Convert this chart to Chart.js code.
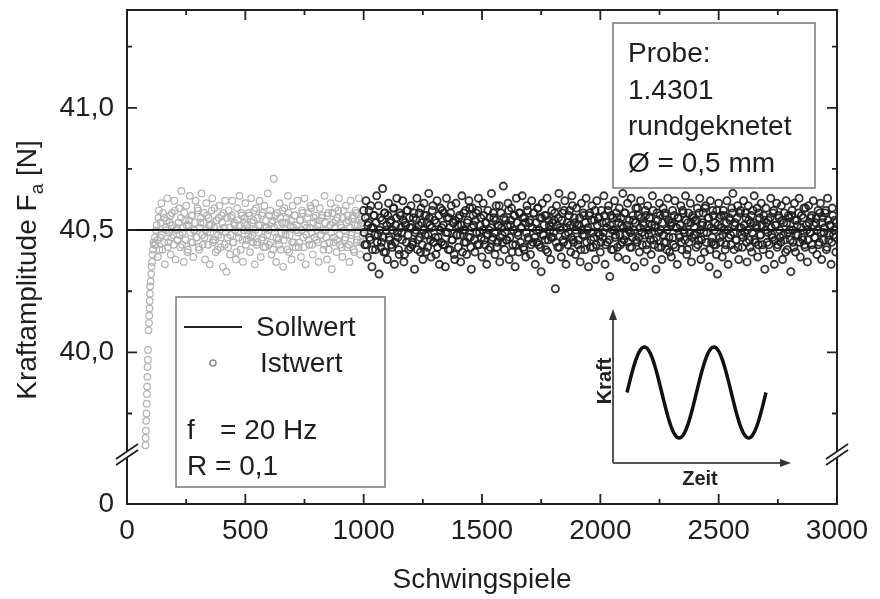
<!DOCTYPE html>
<html>
<head>
<meta charset="utf-8">
<script src="https://cdn.jsdelivr.net/npm/chart.js@4.4.1/dist/chart.umd.min.js"></script>
<style>
  html, body { margin: 0; padding: 0; background: #fff; }
</style>
</head>
<body>
<canvas id="chart" width="880" height="599"></canvas>
<script>
// --- Daten ---
const sollwert = 40.5;
const xTicks = [0, 500, 1000, 1500, 2000, 2500, 3000];
const yTicks = [40.0, 40.5, 41.0];
const yNull = 39.38;     // Position der "0" unter dem Achsenbruch
const yBruch = 39.58;    // Lage des Bruchzeichens
const yMax = 41.40;

// Anlauf (hellgrau), einzelne Zyklen
const anlaufZyklen = [78, 79, 80, 81, 82, 83, 84, 85, 86, 87, 88, 89, 91, 93, 94, 95, 96, 97, 98, 100, 102, 104, 106, 108, 110, 112, 115, 118];
const anlaufWerte = [39.62, 39.65, 39.68, 39.72, 39.75, 39.79, 39.83, 39.86, 39.90, 39.94, 39.97, 40.01, 40.09, 40.12, 40.15, 40.18, 40.21, 40.24, 40.27, 40.29, 40.32, 40.35, 40.37, 40.40, 40.42, 40.45, 40.44, 40.47];

// Istwert hellgrau: ab Zyklus 120 bzw. 122.5, alle 5 Zyklen
const grauStart = 120;
const istGrau = [
  40.44, 40.52, 40.39, 40.58, 40.47, 40.61, 40.42, 40.55, 40.36, 40.50, 40.63, 40.45, 40.53, 40.40, 40.57, 40.48, 40.62, 40.38, 40.51, 40.46,
  40.59, 40.43, 40.66, 40.49, 40.37, 40.54, 40.60, 40.41, 40.52, 40.64, 40.45, 40.56, 40.39, 40.50, 40.62, 40.47, 40.58, 40.42, 40.53, 40.65,
  40.44, 40.57, 40.38, 40.61, 40.49, 40.55, 40.36, 40.52, 40.63, 40.46, 40.59, 40.41, 40.54, 40.48, 40.60, 40.43, 40.56, 40.35, 40.51, 40.62,
  40.33, 40.47, 40.58, 40.40, 40.55, 40.62, 40.45, 40.52, 40.38, 40.59, 40.49, 40.64, 40.42, 40.56, 40.37, 40.53, 40.61, 40.46, 40.50, 40.57,
  40.41, 40.63, 40.48, 40.54, 40.36, 40.59, 40.45, 40.52, 40.62, 40.39, 40.56, 40.47, 40.60, 40.43, 40.51, 40.65, 40.44, 40.58, 40.40, 40.54,
  40.71, 40.49, 40.37, 40.57, 40.46, 40.61, 40.42, 40.53, 40.35, 40.59, 40.48, 40.55, 40.64, 40.41, 40.52, 40.38, 40.60, 40.45, 40.56, 40.50,
  40.62, 40.43, 40.54, 40.39, 40.58, 40.47, 40.63, 40.36, 40.51, 40.57, 40.44, 40.60, 40.49, 40.40, 40.55, 40.61, 40.46, 40.52, 40.37, 40.59,
  40.48, 40.56, 40.42, 40.64, 40.50, 40.38, 40.57, 40.45, 40.61, 40.34, 40.53, 40.47, 40.59, 40.41, 40.55, 40.63, 40.44, 40.51, 40.39, 40.58,
  40.46, 40.60, 40.43, 40.54, 40.37, 40.62, 40.49, 40.56, 40.41, 40.58, 40.45, 40.52, 40.63, 40.40, 40.55, 40.48
];
const grauStart2 = 122.5;
const istGrau2 = [
  40.50, 40.46, 40.55, 40.42, 40.53, 40.48, 40.57, 40.45, 40.51, 40.54, 40.43, 40.49, 40.56, 40.47, 40.52, 40.44, 40.58, 40.50, 40.46, 40.53,
  40.48, 40.55, 40.44, 40.51, 40.57, 40.46, 40.52, 40.42, 40.54, 40.49, 40.56, 40.45, 40.50, 40.53, 40.47, 40.59, 40.43, 40.51, 40.55, 40.48,
  40.53, 40.47, 40.50, 40.56, 40.44, 40.52, 40.49, 40.58, 40.45, 40.51, 40.46, 40.54, 40.42, 40.55, 40.50, 40.47, 40.53, 40.57, 40.44, 40.49,
  40.55, 40.43, 40.51, 40.48, 40.56, 40.45, 40.53, 40.50, 40.41, 40.54, 40.47, 40.52, 40.57, 40.46, 40.50, 40.55, 40.44, 40.52, 40.48, 40.56,
  40.47, 40.53, 40.45, 40.58, 40.50, 40.44, 40.55, 40.49, 40.52, 40.46, 40.57, 40.43, 40.51, 40.54, 40.48, 40.50, 40.56, 40.45, 40.53, 40.42,
  40.51, 40.56, 40.47, 40.52, 40.44, 40.55, 40.49, 40.58, 40.46, 40.50, 40.53, 40.42, 40.57, 40.48, 40.54, 40.45, 40.51, 40.56, 40.43, 40.52,
  40.49, 40.45, 40.54, 40.50, 40.57, 40.43, 40.52, 40.48, 40.55, 40.46, 40.51, 40.59, 40.44, 40.53, 40.47, 40.56, 40.50, 40.45, 40.54, 40.48,
  40.55, 40.50, 40.44, 40.53, 40.47, 40.56, 40.42, 40.52, 40.49, 40.57, 40.45, 40.51, 40.54, 40.46, 40.58, 40.48, 40.52, 40.43, 40.55, 40.50,
  40.47, 40.53, 40.56, 40.44, 40.51, 40.48, 40.55, 40.42, 40.52, 40.57, 40.46, 40.50, 40.54, 40.45, 40.53, 40.49
];

// Istwert schwarz: ab Zyklus 1000 bzw. 1002.5, alle 5 Zyklen
const schwarzStart = 1000;
const istSchwarz = [
  40.58, 40.44, 40.62, 40.39, 40.53, 40.47, 40.60, 40.35, 40.51, 40.56, 40.42, 40.64, 40.48, 40.32, 40.55, 40.45, 40.67, 40.41, 40.57, 40.50,
  40.38, 40.61, 40.46, 40.54, 40.43, 40.59, 40.36, 40.52, 40.63, 40.47, 40.40, 40.56, 40.49, 40.62, 40.37, 40.53, 40.45, 40.58, 40.42, 40.51,
  40.60, 40.44, 40.55, 40.34, 40.50, 40.63, 40.46, 40.57, 40.41, 40.53, 40.38, 40.61, 40.48, 40.56, 40.43, 40.65, 40.52, 40.39, 40.58, 40.45,
  40.54, 40.40, 40.62, 40.47, 40.36, 40.59, 40.51, 40.44, 40.57, 40.35, 40.63, 40.49, 40.55, 40.42, 40.60, 40.46, 40.53, 40.38, 40.61, 40.48,
  40.43, 40.56, 40.37, 40.64, 40.50, 40.45, 40.58, 40.40, 40.54, 40.62, 40.47, 40.34, 40.59, 40.52, 40.41, 40.57, 40.44, 40.63, 40.49, 40.55,
  40.39, 40.61, 40.46, 40.53, 40.36, 40.58, 40.50, 40.43, 40.65, 40.47, 40.55, 40.40, 40.60, 40.45, 40.52, 40.37, 40.57, 40.48, 40.68, 40.42,
  40.54, 40.46, 40.61, 40.38, 40.52, 40.59, 40.44, 40.56, 40.35, 40.63, 40.49, 40.41, 40.57, 40.51, 40.64, 40.43, 40.55, 40.39, 40.60, 40.47,
  40.53, 40.40, 40.62, 40.45, 40.57, 40.36, 40.50, 40.59, 40.44, 40.55, 40.33, 40.61, 40.48, 40.56, 40.42, 40.63, 40.46, 40.52, 40.38, 40.58,
  40.47, 40.54, 40.26, 40.60, 40.43, 40.65, 40.51, 40.39, 40.57, 40.45, 40.62, 40.36, 40.53, 40.49, 40.58, 40.41, 40.64, 40.46, 40.55, 40.40,
  40.59, 40.44, 40.52, 40.37, 40.61, 40.48, 40.56, 40.42, 40.63, 40.50, 40.35, 40.57, 40.46, 40.60, 40.43, 40.54, 40.38, 40.62, 40.49, 40.55,
  40.41, 40.58, 40.47, 40.64, 40.36, 40.53, 40.45, 40.60, 40.31, 40.56, 40.50, 40.42, 40.62, 40.48, 40.55, 40.39, 40.59, 40.44, 40.52, 40.65,
  40.46, 40.57, 40.38, 40.61, 40.50, 40.43, 40.63, 40.47, 40.54, 40.35, 40.59, 40.45, 40.56, 40.41, 40.62, 40.49, 40.53, 40.37, 40.58, 40.44,
  40.60, 40.48, 40.55, 40.40, 40.64, 40.46, 40.52, 40.34, 40.57, 40.43, 40.61, 40.50, 40.38, 40.59, 40.45, 40.56, 40.42, 40.63, 40.47, 40.53,
  40.39, 40.58, 40.44, 40.62, 40.51, 40.36, 40.55, 40.47, 40.60, 40.42, 40.57, 40.49, 40.64, 40.40, 40.53, 40.45, 40.61, 40.37, 40.56, 40.48,
  40.54, 40.43, 40.59, 40.46, 40.63, 40.38, 40.52, 40.57, 40.41, 40.60, 40.49, 40.55, 40.35, 40.62, 40.45, 40.58, 40.44, 40.53, 40.40, 40.32,
  40.61, 40.47, 40.56, 40.39, 40.58, 40.50, 40.44, 40.62, 40.36, 40.55, 40.48, 40.59, 40.65, 40.42, 40.53, 40.46, 40.60, 40.38, 40.57, 40.51,
  40.43, 40.62, 40.49, 40.55, 40.37, 40.60, 40.46, 40.53, 40.41, 40.58, 40.64, 40.45, 40.52, 40.39, 40.57, 40.48, 40.61, 40.44, 40.56, 40.34,
  40.59, 40.45, 40.54, 40.40, 40.63, 40.48, 40.57, 40.36, 40.52, 40.61, 40.44, 40.55, 40.47, 40.60, 40.38, 40.53, 40.46, 40.62, 40.42, 40.56,
  40.50, 40.33, 40.58, 40.45, 40.61, 40.41, 40.54, 40.48, 40.63, 40.39, 40.56, 40.46, 40.59, 40.43, 40.52, 40.37, 40.60, 40.49, 40.55, 40.44,
  40.62, 40.47, 40.53, 40.40, 40.58, 40.45, 40.61, 40.38, 40.55, 40.49, 40.57, 40.42, 40.63, 40.46, 40.52, 40.36, 40.59, 40.48, 40.54, 40.41
];
const schwarzStart2 = 1002.5;
const istSchwarz2 = [
  40.49, 40.55, 40.44, 40.52, 40.58, 40.46, 40.51, 40.42, 40.56, 40.48, 40.53, 40.45, 40.60, 40.50, 40.43, 40.54, 40.47, 40.57, 40.41, 40.52,
  40.56, 40.47, 40.53, 40.44, 40.50, 40.59, 40.45, 40.55, 40.49, 40.42, 40.57, 40.51, 40.46, 40.54, 40.40, 40.52, 40.58, 40.48, 40.55, 40.43,
  40.51, 40.45, 40.57, 40.49, 40.54, 40.42, 40.52, 40.47, 40.59, 40.44, 40.50, 40.56, 40.41, 40.53, 40.48, 40.55, 40.46, 40.51, 40.60, 40.45,
  40.47, 40.53, 40.43, 40.56, 40.50, 40.45, 40.58, 40.52, 40.44, 40.49, 40.55, 40.42, 40.51, 40.57, 40.46, 40.53, 40.40, 40.54, 40.48, 40.52,
  40.55, 40.48, 40.52, 40.41, 40.57, 40.50, 40.45, 40.53, 40.47, 40.59, 40.43, 40.51, 40.56, 40.46, 40.54, 40.49, 40.58, 40.44, 40.52, 40.47,
  40.50, 40.56, 40.44, 40.53, 40.48, 40.42, 40.55, 40.51, 40.46, 40.57, 40.49, 40.54, 40.43, 40.52, 40.60, 40.47, 40.51, 40.45, 40.55, 40.49,
  40.46, 40.52, 40.58, 40.47, 40.54, 40.41, 40.50, 40.56, 40.44, 40.53, 40.48, 40.57, 40.45, 40.51, 40.55, 40.42, 40.53, 40.49, 40.58, 40.46,
  40.54, 40.44, 40.51, 40.57, 40.47, 40.53, 40.45, 40.59, 40.50, 40.43, 40.55, 40.48, 40.52, 40.46, 40.56, 40.41, 40.54, 40.50, 40.47, 40.53,
  40.49, 40.57, 40.45, 40.52, 40.55, 40.43, 40.50, 40.54, 40.46, 40.58, 40.48, 40.51, 40.44, 40.56, 40.52, 40.47, 40.60, 40.45, 40.53, 40.50,
  40.52, 40.46, 40.55, 40.42, 40.50, 40.57, 40.48, 40.53, 40.45, 40.51, 40.56, 40.43, 40.54, 40.49, 40.47, 40.58, 40.44, 40.52, 40.55, 40.48,
  40.45, 40.53, 40.49, 40.56, 40.44, 40.51, 40.58, 40.46, 40.52, 40.42, 40.55, 40.50, 40.47, 40.57, 40.43, 40.53, 40.48, 40.55, 40.45, 40.51,
  40.57, 40.48, 40.52, 40.45, 40.54, 40.49, 40.43, 40.56, 40.50, 40.53, 40.46, 40.59, 40.47, 40.51, 40.55, 40.44, 40.52, 40.48, 40.56, 40.42,
  40.50, 40.55, 40.46, 40.52, 40.58, 40.44, 40.51, 40.47, 40.54, 40.49, 40.56, 40.43, 40.53, 40.48, 40.57, 40.45, 40.50, 40.54, 40.41, 40.52,
  40.53, 40.47, 40.56, 40.43, 40.51, 40.55, 40.48, 40.52, 40.45, 40.58, 40.50, 40.46, 40.54, 40.42, 40.57, 40.49, 40.53, 40.47, 40.55, 40.51,
  40.48, 40.54, 40.44, 40.57, 40.50, 40.46, 40.53, 40.49, 40.59, 40.45, 40.52, 40.55, 40.42, 40.51, 40.47, 40.56, 40.50, 40.44, 40.58, 40.52,
  40.55, 40.45, 40.51, 40.48, 40.56, 40.42, 40.53, 40.50, 40.47, 40.54, 40.44, 40.57, 40.49, 40.52, 40.46, 40.55, 40.43, 40.51, 40.58, 40.48,
  40.47, 40.52, 40.57, 40.45, 40.50, 40.54, 40.43, 40.56, 40.49, 40.53, 40.46, 40.51, 40.59, 40.44, 40.55, 40.48, 40.52, 40.42, 40.54, 40.50,
  40.53, 40.49, 40.44, 40.55, 40.51, 40.47, 40.58, 40.46, 40.52, 40.43, 40.56, 40.50, 40.45, 40.54, 40.48, 40.57, 40.41, 40.53, 40.49, 40.55,
  40.46, 40.56, 40.50, 40.43, 40.54, 40.48, 40.52, 40.57, 40.45, 40.51, 40.47, 40.55, 40.44, 40.59, 40.50, 40.46, 40.53, 40.49, 40.56, 40.42,
  40.52, 40.47, 40.55, 40.50, 40.44, 40.57, 40.49, 40.53, 40.46, 40.51, 40.58, 40.43, 40.54, 40.48, 40.52, 40.45, 40.56, 40.50, 40.47, 40.53
];
const schritt = 5;

const FONT = '"Liberation Sans", Arial, sans-serif';
const textFarbe = '#1e1e1e';

const reihe = (start, werte) => werte.map((v, i) => ({ x: start + i * schritt, y: v }));
const grauPunkte = anlaufZyklen.map((z, i) => ({ x: z, y: anlaufWerte[i] }))
  .concat(reihe(grauStart, istGrau), reihe(grauStart2, istGrau2));
const schwarzPunkte = reihe(schwarzStart, istSchwarz).concat(reihe(schwarzStart2, istSchwarz2));

// Rahmen, Ticks nach innen, Achsenbruch, Textfelder, Skizze
const extras = {
  id: 'extras',
  afterDraw(chart) {
    const ctx = chart.ctx;
    const { left, right, top, bottom } = chart.chartArea;
    const xs = chart.scales.x, ys = chart.scales.y;
    ctx.save();

    // Rahmen
    ctx.strokeStyle = '#222';
    ctx.lineWidth = 2;
    ctx.strokeRect(left, top, right - left, bottom - top);

    // Ticks X (unten und oben)
    ctx.lineWidth = 1.8;
    for (let v = 0; v <= 3000; v += 250) {
      const px = xs.getPixelForValue(v);
      const len = v % 500 === 0 ? 10 : 5;
      ctx.beginPath();
      ctx.moveTo(px, bottom); ctx.lineTo(px, bottom - len);
      ctx.moveTo(px, top); ctx.lineTo(px, top + len);
      ctx.stroke();
    }
    // Ticks Y (links und rechts)
    const yMinor = [39.75, 40.25, 40.75, 41.25];
    yTicks.concat(yMinor).forEach(v => {
      const py = ys.getPixelForValue(v);
      const len = yTicks.includes(v) ? 10 : 5;
      ctx.beginPath();
      ctx.moveTo(left, py); ctx.lineTo(left + len, py);
      ctx.moveTo(right, py); ctx.lineTo(right - len, py);
      ctx.stroke();
    });

    // Achsenbruch
    const by = ys.getPixelForValue(yBruch);
    [left, right].forEach(ax => {
      ctx.fillStyle = '#fff';
      ctx.fillRect(ax - 2, by - 4, 4, 7);
      ctx.strokeStyle = '#222';
      ctx.lineWidth = 1.8;
      ctx.beginPath();
      ctx.moveTo(ax - 11, by + 4); ctx.lineTo(ax + 11, by - 11);
      ctx.moveTo(ax - 11, by + 10); ctx.lineTo(ax + 11, by - 5);
      ctx.stroke();
    });

    // Achsentitel
    ctx.fillStyle = textFarbe;
    ctx.font = '28px ' + FONT;
    ctx.textAlign = 'center';
    ctx.textBaseline = 'middle';
    ctx.fillText('Schwingspiele', (left + right) / 2, 580);

    ctx.save();
    ctx.translate(36, 270);
    ctx.rotate(-Math.PI / 2);
    ctx.textAlign = 'left';
    ctx.textBaseline = 'alphabetic';
    const t1 = 'Kraftamplitude F', t2 = 'a', t3 = ' [N]';
    ctx.font = '28px ' + FONT;
    const w1 = ctx.measureText(t1).width, w3 = ctx.measureText(t3).width;
    ctx.font = '19px ' + FONT;
    const w2 = ctx.measureText(t2).width;
    let sx = -(w1 + w2 + w3) / 2;
    ctx.font = '28px ' + FONT;
    ctx.fillText(t1, sx, 0);
    ctx.font = '19px ' + FONT;
    ctx.fillText(t2, sx + w1, 7);
    ctx.font = '28px ' + FONT;
    ctx.fillText(t3, sx + w1 + w2, 0);
    ctx.restore();

    // Probe-Kasten
    ctx.fillStyle = '#fff';
    ctx.fillRect(613, 23, 202, 165);
    ctx.strokeStyle = '#7a7a7a';
    ctx.lineWidth = 1.5;
    ctx.strokeRect(613, 23, 202, 165);
    ctx.fillStyle = textFarbe;
    ctx.font = '28px ' + FONT;
    ctx.textAlign = 'left';
    ctx.textBaseline = 'alphabetic';
    ['Probe:', '1.4301', 'rundgeknetet', 'Ø = 0,5 mm'].forEach((s, i) => {
      ctx.fillText(s, 628, 62 + i * 36.7);
    });

    // Legenden-Kasten
    ctx.fillStyle = '#fff';
    ctx.fillRect(176, 297, 209, 190);
    ctx.strokeRect(176, 297, 209, 190);
    ctx.strokeStyle = '#222';
    ctx.lineWidth = 2;
    ctx.beginPath();
    ctx.moveTo(184, 327); ctx.lineTo(242, 327);
    ctx.stroke();
    ctx.strokeStyle = '#888';
    ctx.lineWidth = 1.5;
    ctx.beginPath();
    ctx.arc(213, 363, 3, 0, Math.PI * 2);
    ctx.stroke();
    ctx.fillStyle = textFarbe;
    ctx.fillText('Sollwert', 256, 336);
    ctx.fillText('Istwert', 260, 372);
    ctx.fillText('f', 187, 439);
    ctx.fillText('= 20 Hz', 220, 439);
    ctx.fillText('R = 0,1', 187, 475);

    // Skizze Kraft/Zeit
    ctx.strokeStyle = '#555';
    ctx.fillStyle = '#333';
    ctx.lineWidth = 2;
    ctx.beginPath();
    ctx.moveTo(613, 463); ctx.lineTo(613, 318);
    ctx.moveTo(613, 463); ctx.lineTo(781, 463);
    ctx.stroke();
    ctx.beginPath();
    ctx.moveTo(613, 309); ctx.lineTo(609, 320); ctx.lineTo(617, 320); ctx.closePath();
    ctx.fill();
    ctx.beginPath();
    ctx.moveTo(791, 463); ctx.lineTo(780, 459); ctx.lineTo(780, 467); ctx.closePath();
    ctx.fill();

    ctx.strokeStyle = '#111';
    ctx.lineWidth = 3.5;
    ctx.lineJoin = 'round';
    ctx.beginPath();
    for (let px = 627; px <= 766; px += 1) {
      const py = 392.5 - 45.5 * Math.sin((px - 627) / 69.5 * 2 * Math.PI);
      if (px === 627) ctx.moveTo(px, py); else ctx.lineTo(px, py);
    }
    ctx.stroke();

    ctx.fillStyle = '#222';
    ctx.font = 'bold 20px ' + FONT;
    ctx.textAlign = 'center';
    ctx.fillText('Zeit', 700, 485);
    ctx.save();
    ctx.translate(611, 381);
    ctx.rotate(-Math.PI / 2);
    ctx.fillText('Kraft', 0, 0);
    ctx.restore();

    ctx.restore();
  }
};

new Chart(document.getElementById('chart').getContext('2d'), {
  type: 'scatter',
  data: {
    datasets: [
      {
        label: 'Istwert (Anlauf)',
        data: grauPunkte,
        order: 3,
        pointRadius: 3.3,
        borderWidth: 1.2,
        borderColor: 'rgb(178,178,178)',
        backgroundColor: 'rgba(0,0,0,0)'
      },
      {
        label: 'Sollwert',
        type: 'line',
        data: [{ x: 0, y: sollwert }, { x: 3000, y: sollwert }],
        order: 2,
        borderColor: '#111',
        borderWidth: 2,
        pointRadius: 0,
        fill: false
      },
      {
        label: 'Istwert',
        data: schwarzPunkte,
        order: 1,
        pointRadius: 3.6,
        borderWidth: 1.8,
        borderColor: 'rgba(30,30,30,0.9)',
        backgroundColor: 'rgba(0,0,0,0)'
      }
    ]
  },
  options: {
    responsive: false,
    animation: false,
    layout: { padding: { left: 0, top: 10, right: 43, bottom: 0 } },
    plugins: {
      legend: { display: false },
      tooltip: { enabled: false }
    },
    scales: {
      x: {
        type: 'linear',
        min: 0,
        max: 3000,
        afterBuildTicks: s => { s.ticks = xTicks.map(v => ({ value: v })); },
        afterFit: s => { s.height = 95; s.paddingLeft = 0; s.paddingRight = 0; },
        grid: { display: false, drawTicks: false },
        border: { display: false },
        ticks: {
          autoSkip: false,
          maxRotation: 0,
          padding: 10,
          color: textFarbe,
          font: { family: FONT, size: 28 },
          callback: v => String(v)
        }
      },
      y: {
        type: 'linear',
        min: yNull,
        max: yMax,
        afterBuildTicks: s => { s.ticks = [yNull].concat(yTicks).map(v => ({ value: v })); },
        afterFit: s => { s.width = 127; s.paddingTop = 0; s.paddingBottom = 0; },
        grid: { display: false, drawTicks: false },
        border: { display: false },
        ticks: {
          autoSkip: false,
          padding: 13,
          color: textFarbe,
          font: { family: FONT, size: 28 },
          callback: v => v === yNull ? '0' : v.toFixed(1).replace('.', ',')
        }
      }
    }
  },
  plugins: [extras]
});
</script>
</body>
</html>
